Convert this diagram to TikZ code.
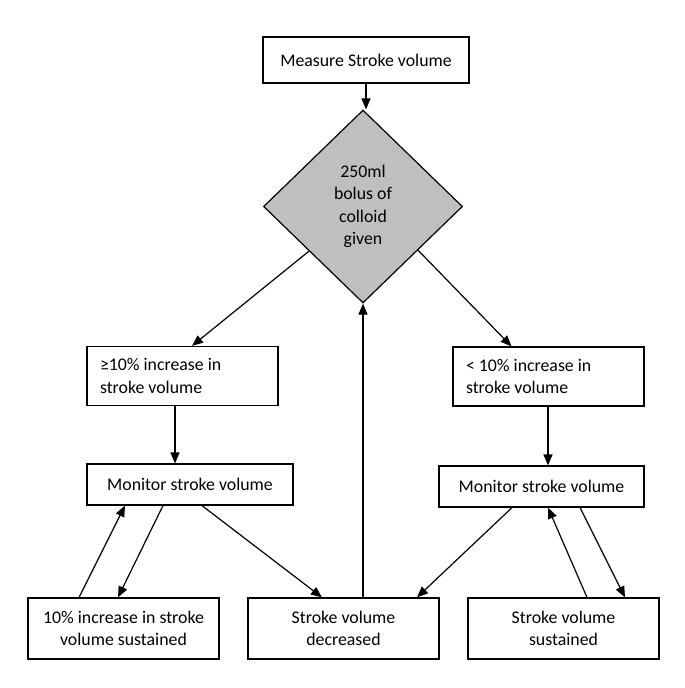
\documentclass[tikz,border=0pt]{standalone}
\usepackage{fontspec}
\setmainfont{Carlito}
\usetikzlibrary{shapes.geometric,arrows.meta,calc}
\begin{document}
\begin{tikzpicture}[x=1pt, y=-1pt, every node/.style={font=\fontsize{17.8}{22.5}\selectfont},
  box/.style={draw, line width=1.2pt, inner sep=0pt, align=center, minimum width=191pt, minimum height=61pt},
  arr/.style={line width=1.2pt, -{Triangle[length=11pt,width=9pt]}}]
\useasboundingbox (0,0) rectangle (685,688);
% top of the chart
\node[box, minimum width=206pt, minimum height=46pt] (measure) at (366,60) {Measure Stroke volume};
\node[draw, diamond, line width=1.2pt, fill=black!25, inner sep=0pt, align=center, minimum width=199pt, minimum height=193pt] (bolus) at (363,206.5) {250ml\\bolus of\\colloid\\given};
% two branches
\node[box, align=flush left, text width=165pt, inner xsep=13pt, minimum height=59pt] (geq) at (182.5,376) {≥10\% increase in\\stroke volume};
\node[box, align=flush left, text width=165pt, inner xsep=13pt, minimum height=59pt] (lt) at (548.5,376.5) {< 10\% increase in\\stroke volume};
\node[box, minimum width=206pt, minimum height=41pt] (monL) at (190,484.5) {Monitor stroke volume};
\node[box, minimum width=205pt, minimum height=41pt] (monR) at (541.5,486.5) {Monitor stroke volume};
% outcomes
\node[box] (susL) at (123.5,628.5) {10\% increase in stroke\\volume sustained};
\node[box] (dec) at (343.5,628.5) {Stroke volume\\decreased};
\node[box] (susR) at (563.5,628.5) {Stroke volume\\sustained};
% connectors
\draw[arr] (measure.south) -- (measure.south |- bolus.north);
\draw[arr] ($(bolus.west)!0.46!(bolus.south)$) -- ([xshift=9.5pt]geq.north);
\draw[arr] ($(bolus.east)!0.45!(bolus.south)$) -- ([xshift=-37pt]lt.north);
\draw[arr] ([xshift=-7.5pt]geq.south) -- ([xshift=-7.5pt]geq.south |- monL.north);
\draw[arr] ([xshift=-0.5pt]lt.south) -- ([xshift=-0.5pt]lt.south |- monR.north);
\draw[arr] ([xshift=-44.5pt]susL.north) -- ([xshift=-65pt]monL.south);
\draw[arr] ([xshift=-27pt]monL.south) -- ([xshift=-5.5pt]susL.north);
\draw[arr] ([xshift=12pt]monL.south) -- ([xshift=-21.5pt]dec.north);
\draw[arr] ([xshift=19.5pt]dec.north) -- ([xshift=19.5pt]dec.north |- bolus.south);
\draw[arr] ([xshift=-29.5pt]monR.south) -- ([xshift=73.5pt]dec.north);
\draw[arr] ([xshift=23.5pt]susR.north) -- ([xshift=6.5pt]monR.south);
\draw[arr] ([xshift=38.5pt]monR.south) -- ([xshift=61.5pt]susR.north);
\end{tikzpicture}
\end{document}
